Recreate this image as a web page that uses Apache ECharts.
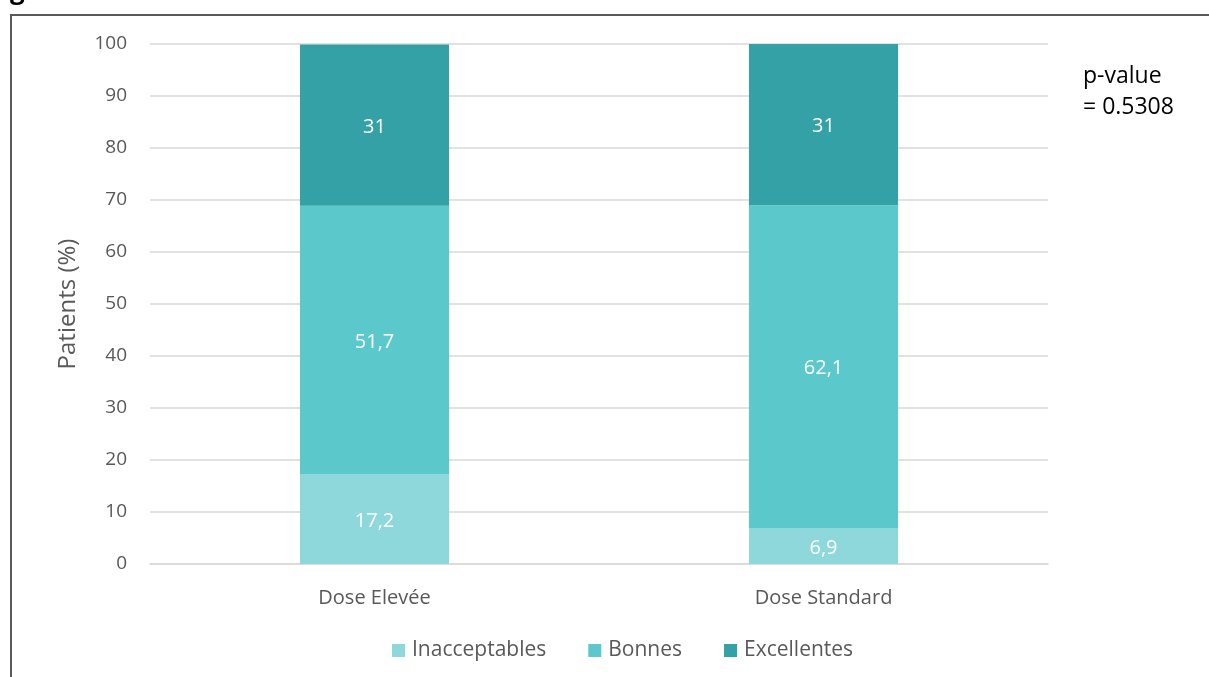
<!DOCTYPE html>
<html>
<head>
<meta charset="utf-8">
<script src="https://cdn.jsdelivr.net/npm/echarts@6/dist/echarts.min.js"></script>
<style>
  html, body { margin: 0; padding: 0; background: #fff; }
  #chart { width: 1209px; height: 677px; }
</style>
</head>
<body>
<div id="chart"></div>
<script>
// Distribution of results by dose group (percent of patients)
const categories = ['Dose Elevée', 'Dose Standard'];
const seriesNames = ['Inacceptables', 'Bonnes', 'Excellentes'];
const inacceptables = [17.2, 6.9];
const bonnes = [51.7, 62.1];
const excellentes = [31, 31];
const yTicks = [0, 10, 20, 30, 40, 50, 60, 70, 80, 90, 100];
const pValueLines = ['p-value', '= 0.5308'];

const colors = ['#8ed8db', '#5bc8cc', '#34a1a6'];
const font = '"Open Sans", Lato, sans-serif';

const chart = echarts.init(document.getElementById('chart'), null, { renderer: 'canvas' });

const fmt = p => String(p.value).replace('.', ',');

function makeSeries(name, data, color) {
  return {
    name: name,
    type: 'bar',
    stack: 'total',
    data: data,
    barWidth: '33.2%',
    itemStyle: { color: color },
    label: {
      show: true,
      position: 'inside',
      color: '#ffffff',
      fontSize: 20,
      fontFamily: font,
      formatter: fmt,
      offset: [0, 2]
    },
    emphasis: { disabled: true }
  };
}

chart.setOption({
  animation: false,
  backgroundColor: '#ffffff',
  grid: { left: 150, right: 161, top: 44, bottom: 113, containLabel: false },
  legend: {
    data: seriesNames,
    bottom: 11,
    left: 387,
    itemWidth: 13,
    itemHeight: 13,
    itemGap: 42,
    icon: 'rect',
    textStyle: { color: '#595959', fontSize: 21, fontFamily: font, padding: [0, 0, 0, 2] }
  },
  xAxis: {
    type: 'category',
    data: categories,
    axisLine: { show: true, lineStyle: { color: '#d9d9d9', width: 1.5 } },
    axisTick: { show: false },
    axisLabel: { color: '#595959', fontSize: 20, fontFamily: font, margin: 24 }
  },
  yAxis: {
    type: 'value',
    min: yTicks[0],
    max: yTicks[yTicks.length - 1],
    interval: yTicks[1] - yTicks[0],
    name: 'Patients (%)',
    nameLocation: 'middle',
    nameGap: 70,
    nameRotate: 90,
    nameTextStyle: { color: '#595959', fontSize: 24, fontFamily: font },
    axisLine: { show: false },
    axisTick: { show: false },
    axisLabel: { color: '#595959', fontSize: 19, fontFamily: font, margin: 23, padding: [3, 0, 0, 0] },
    splitLine: { lineStyle: { color: '#d9d9d9', width: 1.5 } }
  },
  series: [
    makeSeries(seriesNames[0], inacceptables, colors[0]),
    makeSeries(seriesNames[1], bonnes, colors[1]),
    makeSeries(seriesNames[2], excellentes, colors[2])
  ],
  graphic: [
    // outer frame of the figure panel
    {
      type: 'polyline',
      shape: { points: [[1209, 15], [11, 15], [11, 677]] },
      style: { stroke: '#595959', lineWidth: 2, fill: null }
    },
    // figure caption, clipped by the top edge
    {
      type: 'text',
      left: 10,
      top: -21,
      style: { text: 'g', fill: '#000', font: 'bold 26px ' + font }
    },
    {
      type: 'text',
      left: 1083,
      top: 61,
      style: {
        text: pValueLines.join('\n'),
        fill: '#000000',
        font: '23px ' + font,
        lineHeight: 31
      }
    }
  ]
});
</script>
</body>
</html>
